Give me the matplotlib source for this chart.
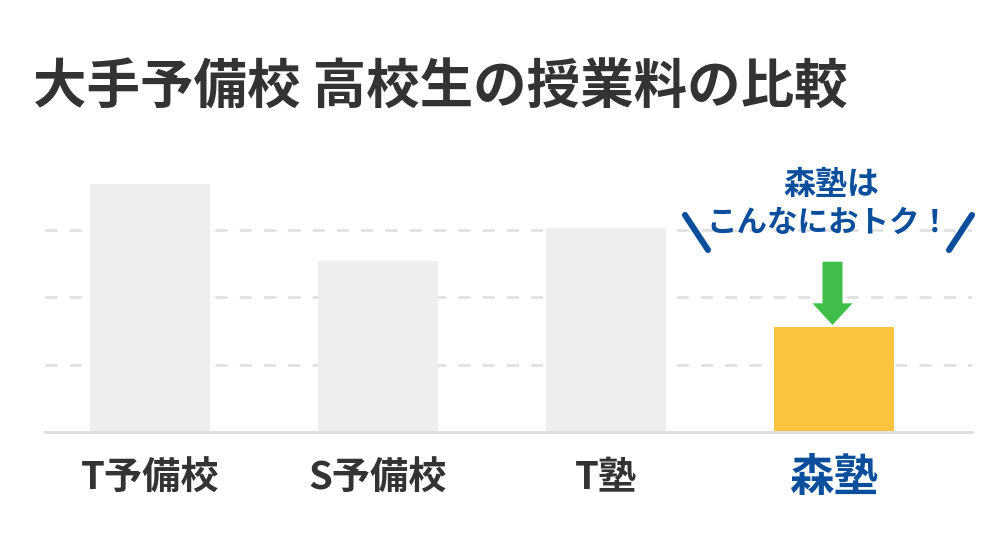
import matplotlib

matplotlib.use("Agg")
import matplotlib.pyplot as plt
from matplotlib.patches import Polygon
from matplotlib.lines import Line2D
from matplotlib.transforms import Affine2D

TEXT = "#333333"
BLUE = "#0B4F9C"
GREY_BAR = "#EEEEEE"
GRID = "#E0E0E0"
YELLOW = "#FCC33E"
GREEN = "#3FBE4A"

SCHOOLS = ["T予備校", "S予備校", "T塾", "森塾"]
FEES = [3.68, 2.53, 3.02, 1.56]
GRID_LEVELS = [1, 2, 3]

plt.rcParams["font.family"] = ["Noto Sans CJK JP", "DejaVu Sans"]

W, H = 1005, 555
fig = plt.figure(figsize=(W / 100, H / 100), dpi=100)
ax_bottom = 432
unit = 67.5
ymax = 4.5
ax = fig.add_axes([45 / W, (H - ax_bottom) / H, (972 - 45) / W, ymax * unit / H])

x = list(range(len(SCHOOLS)))
ax.set_xlim(-105 / 228, (972 - 150) / 228)
ax.set_ylim(0, ymax)

colors = [GREY_BAR] * (len(SCHOOLS) - 1) + [YELLOW]
ax.bar(x, FEES, width=120 / 228, color=colors, zorder=2)

for level in GRID_LEVELS:
    ax.axhline(level, color=GRID, linewidth=1.9, dashes=(4.6, 4.6), zorder=1)
ax.axhline(0, color=GRID, linewidth=2.2, zorder=3, clip_on=False)

ax.axis("off")

# category labels under the baseline
for xi, name in zip(x, SCHOOLS):
    is_mori = name == "森塾"
    ax.annotate(
        name, xy=(xi, 0), xytext=(0, -46 * 0.72), textcoords="offset points",
        ha="center", va="center", fontweight="bold",
        fontsize=32 if is_mori else 27.5, color=BLUE if is_mori else TEXT,
    )

fig.text(33 / W, 1 - 88 / H, "大手予備校 高校生の授業料の比較", fontsize=38.5,
         fontweight="bold", color=TEXT, ha="left", va="center")

# callout above the 森塾 bar, positioned in pixels relative to its top
fig.canvas.draw()
px, py = ax.transData.transform((x[-1], FEES[-1]))
rel = Affine2D().translate(px, py)

arrow = [(-11.5, 65), (8.5, 65), (8.5, 23.4), (18.5, 23.4), (-1.5, 1.7),
         (-21.5, 23.4), (-11.5, 23.4)]
fig.add_artist(Polygon(arrow, closed=True, facecolor=GREEN, edgecolor="none",
                       transform=rel))

for (x0, y0), (x1, y1) in [((-149, 111.7), (-126, 76.7)),
                           ((138, 111.7), (115, 76.7))]:
    fig.add_artist(Line2D([x0, x1], [y0, y1], color=BLUE, linewidth=4.4,
                          solid_capstyle="round", transform=rel))

fig.text(0, 0, "森塾は", fontsize=23, fontweight="bold", color=BLUE,
         ha="center", va="center",
         transform=Affine2D().translate(px - 3, py + 141.7))
fig.text(0, 0, "こんなにおトク！", fontsize=22, fontweight="bold", color=BLUE,
         ha="center", va="center",
         transform=Affine2D().translate(px - 6, py + 103.7))

fig.savefig("out.png", dpi=100, facecolor="white")
